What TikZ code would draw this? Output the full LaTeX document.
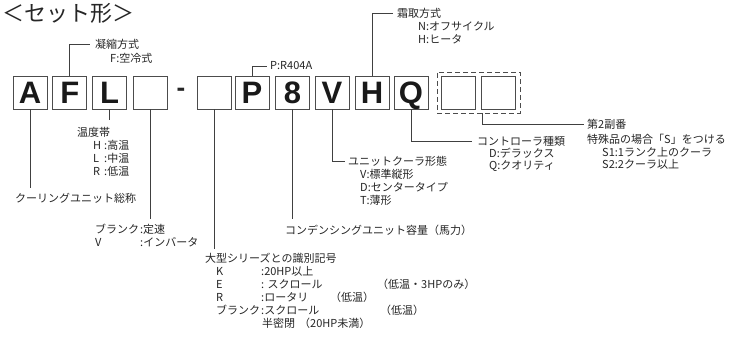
\documentclass[tikz,border=0pt]{standalone}
\usepackage{fontspec}
\setmainfont{Liberation Sans}
\newfontfamily\jp{Noto Sans CJK JP}
\newfontfamily\boxfont{Liberation Sans}
\newcommand\colw[2]{\makebox[#1][l]{#2}}
\begin{document}
\begin{tikzpicture}[x=1pt,y=-1pt,
  box/.style={draw=black!70, line width=0.9pt, minimum width=34pt, minimum height=33pt,
    inner sep=0pt, text height=22pt, text depth=0pt,
    font=\boxfont\bfseries\fontsize{31}{31}\selectfont, text=black!90},
  lbl/.style={anchor=west, inner sep=0pt, font=\jp\fontsize{11}{13}\selectfont, text=black!85},
  conn/.style={draw=black!75, line width=0.8pt},
  grpbox/.style={draw=black!70, line width=0.9pt, dash pattern=on 5pt off 3pt,
    minimum width=83pt, minimum height=41pt, inner sep=0pt}]
\fill[white] (0,0) rectangle (747,342);
\useasboundingbox (0,0) rectangle (747,342);

% title
\node[lbl, font=\jp\fontsize{22}{24}\selectfont] (title) at (2,13) {＜セット形＞};

% boxes
\node[box] (A)  at (30,92.5)    {A};
\node[box] (F)  at (69.75,92.5) {F};
\node[box] (L)  at (109.5,92.5) {L};
\node[box] (B1) at (150,92.5)   {};
\node[inner sep=0pt, font=\boxfont\bfseries\fontsize{26}{26}\selectfont, text=black!85] (dash) at (181,92) {-};
\node[box] (B2) at (214.5,92.5) {};
\node[box] (P)  at (252,92.5)   {P};
\node[box] (N8) at (292.5,92.5) {8};
\node[box] (V)  at (332,92.5)   {V};
\node[box] (H)  at (372,92.5)   {H};
\node[box] (Q)  at (411,92.5)   {Q};
\node[box] (S1) at (458.5,92.5) {};
\node[box] (S2) at (498,92.5)   {};
\node[grpbox] (grp) at (478.5,92.5) {};

% upper labels
\node[lbl] (tF1) at (95,44)  {凝縮方式};
\node[lbl] (tF2) at (110,58) {F:空冷式};
\node[lbl] (tP)  at (270,66) {P:R404A};
\node[lbl] (tH1) at (397,13) {霜取方式};
\node[lbl] (tH2) at (418,26) {N:オフサイクル};
\node[lbl] (tH3) at (418,39) {H:ヒータ};

% lower labels
\node[lbl] (tA)  at (15,198) {クーリングユニット総称};
\node[lbl] (tL1) at (77,132) {温度帯};
\node[lbl] (tL2) at (93,145) {\colw{11pt}{H}:高温};
\node[lbl] (tL3) at (93,158) {\colw{11pt}{L}:中温};
\node[lbl] (tL4) at (93,171) {\colw{11pt}{R}:低温};
\node[lbl] (tB1) at (95,229) {\colw{45pt}{ブランク}:定速};
\node[lbl] (tB2) at (95,242) {\colw{45pt}{V}:インバータ};
\node[lbl] (t8)  at (285,230) {コンデンシングユニット容量（馬力）};
\node[lbl] (tV1) at (348,161) {ユニットクーラ形態};
\node[lbl] (tV2) at (360,174) {V:標準縦形};
\node[lbl] (tV3) at (360,187) {D:センタータイプ};
\node[lbl] (tV4) at (360,200) {T:薄形};
\node[lbl] (tQ1) at (477,141) {コントローラ種類};
\node[lbl] (tQ2) at (489,153.5) {D:デラックス};
\node[lbl] (tQ3) at (489,166) {Q:クオリティ};
\node[lbl] (tS1) at (587,124) {第2副番};
\node[lbl] (tS2) at (587,139) {特殊品の場合「S」をつける};
\node[lbl] (tS3) at (602,152) {S1:1ランク上のクーラ};
\node[lbl] (tS4) at (602,164.5) {S2:2クーラ以上};
\node[lbl] (tK1) at (205,258) {大型シリーズとの識別記号};
\node[lbl] (tK2) at (216,271) {\colw{45pt}{K}:20HP以上};
\node[lbl] (tK3) at (216,284) {\colw{45pt}{E}: スクロール};
\node[lbl] (tK4) at (216,297) {\colw{45pt}{R}:ロータリ};
\node[lbl] (tK5) at (216,310) {\colw{45pt}{ブランク}:スクロール};
\node[lbl] (tK6) at (262,323) {半密閉};
\node[lbl] (tK3b) at (377,284) {（低温・3HPのみ）};
\node[lbl] (tK4b) at (330,297) {（低温）};
\node[lbl] (tK5b) at (380,310) {（低温）};
\node[lbl] (tK6b) at (299,323) {（20HP未満）};

% connectors
\draw[conn] (F.north) |- ([xshift=-5pt]tF1.west);
\draw[conn] (P.north) |- ([xshift=-3pt]tP.west);
\draw[conn] (H.north) |- ([xshift=-4pt]tH1.west);
\draw[conn] (A.south) -- ([yshift=5pt]A.south |- tA.north);
\draw[conn] (L.south) -- ([yshift=7pt]L.south |- tL1.north);
\draw[conn] (B1.south) -- ([yshift=5pt]B1.south |- tB1.north);
\draw[conn] (B2.south) -- ([yshift=4pt]B2.south |- tK1.north);
\draw[conn] (N8.south) -- ([yshift=6pt]N8.south |- t8.north);
\draw[conn] (V.south) |- ([xshift=-3pt]tV1.west);
\draw[conn] (Q.south) |- ([xshift=-5pt]tQ1.west);
\draw[conn] ([xshift=1.5pt]S2.west |- grp.south) |- ([xshift=-3pt]tS1.west);
\end{tikzpicture}
\end{document}
